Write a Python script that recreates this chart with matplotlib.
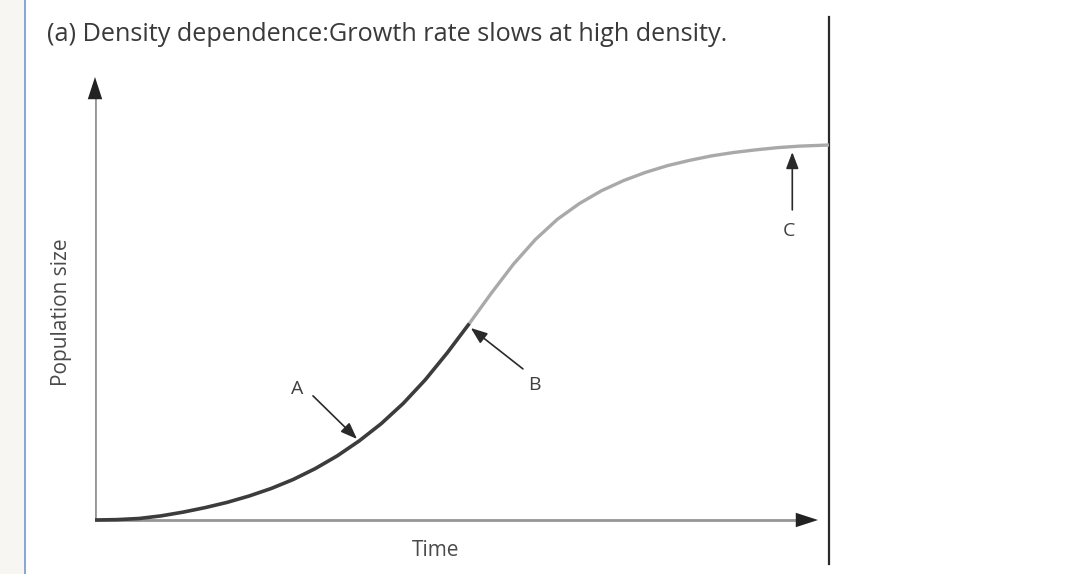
import matplotlib
matplotlib.use("Agg")
import matplotlib.pyplot as plt
from matplotlib.patches import Rectangle

# curve (time, population size), arbitrary units
# dark part: from the origin up to point B
time_dark = [0.0, 0.3, 0.6, 0.9, 1.2, 1.5, 1.8, 2.1, 2.4, 2.7, 3.0, 3.3,
             3.6, 3.9, 4.2, 4.5, 4.8, 5.1]
pop_dark = [0.0, 0.01, 0.04, 0.11, 0.21, 0.33, 0.47, 0.64, 0.84, 1.08, 1.37, 1.71,
            2.11, 2.57, 3.11, 3.74, 4.46, 5.24]
# light part: from point B to the plateau
time_light = [5.1, 5.4, 5.7, 6.0, 6.3, 6.6, 6.9, 7.2, 7.5, 7.8, 8.1, 8.4,
              8.7, 9.0, 9.3, 9.6, 10.0]
pop_light = [5.24, 6.05, 6.82, 7.48, 8.02, 8.44, 8.78, 9.05, 9.27, 9.45, 9.59, 9.71,
             9.80, 9.87, 9.93, 9.97, 10.0]

labels = ["A", "B", "C"]
label_pos = [(2.75, 3.5), (5.98, 3.6), (9.46, 7.7)]
arrow_tail = [(2.97, 3.31), (5.83, 4.03), (9.50, 8.27)]
arrow_tip = [(3.57, 2.16), (5.12, 5.12), (9.50, 9.81)]

title = "(a) Density dependence:Growth rate slows at high density."
xlabel = "Time"
ylabel = "Population size"

W, H = 1068, 574
fig = plt.figure(figsize=(W / 100, H / 100), dpi=100)
plt.rcParams['font.family'] = ['Open Sans', 'DejaVu Sans']

# left strip of the page
fig.patches.append(Rectangle((0, 0), 25 / W, 1, transform=fig.transFigure,
                             color='#f7f6f2', zorder=0))
fig.add_artist(plt.Line2D([25 / W, 25 / W], [0, 1], color='#7f9fd4', lw=1.3))

# axes frame in pixels: x 95..829, y 17..564 ; data 0 at y=520, 10 at y=145
px_x = 73.4
px_y = 37.5
left, right, top, bottom = 95, 829, 17, 564
ax = fig.add_axes([left / W, 1 - bottom / H, (right - left) / W, (bottom - top) / H])
ax.set_xlim(0, (right - left) / px_x)
ax.set_ylim((520 - bottom) / px_y, (520 - top) / px_y)
for s in ['left', 'top', 'bottom']:
    ax.spines[s].set_visible(False)
ax.spines['right'].set_color('#2a2a2a')
ax.spines['right'].set_linewidth(1.6)
ax.set_xticks([])
ax.set_yticks([])
ax.patch.set_alpha(0)

# axis lines with arrows
x_end = (818 - 95) / px_x
y_end = (520 - 77) / px_y
ax.plot([0, x_end - 0.2], [0, 0], color='#969696', lw=2, solid_capstyle='butt', zorder=2)
ax.plot([0, 0], [0, y_end - 0.4], color='#969696', lw=2, solid_capstyle='butt', zorder=2)
head = dict(arrowstyle='-|>,head_length=1.6,head_width=0.52', color='#222222',
            lw=0, shrinkA=0, shrinkB=0, mutation_scale=10)
ax.annotate('', xy=(x_end, 0), xytext=(x_end - 0.3, 0), arrowprops=head)
ax.annotate('', xy=(0, y_end), xytext=(0, y_end - 0.6), arrowprops=head)

# curve
ax.plot(time_light, pop_light, color='#a9a9a9', lw=2.4, solid_capstyle='butt',
        solid_joinstyle='round', zorder=3)
ax.plot(time_dark, pop_dark, color='#3c3c3c', lw=2.6, solid_capstyle='butt',
        solid_joinstyle='round', zorder=4)

# labelled arrows
for lab, lp, tail, tip in zip(labels, label_pos, arrow_tail, arrow_tip):
    ax.text(lp[0], lp[1], lab, ha='center', va='center', fontsize=14, color='#404040')
    ax.annotate('', xy=tip, xytext=tail,
                arrowprops=dict(arrowstyle='-|>,head_length=1.0,head_width=0.38',
                                color='#2a2a2a', lw=1.2, shrinkA=0, shrinkB=0,
                                mutation_scale=10))

fig.text(47 / W, 1 - 41 / H, title, ha='left', va='baseline', fontsize=18.2, color='#3a3a3a')
fig.text(436 / W, 1 - 551 / H, xlabel, ha='center', va='center', fontsize=15, color='#4a4a4a')
fig.text(61 / W, 1 - 312 / H, ylabel, ha='center', va='center', rotation=90,
         fontsize=15, color='#4a4a4a')

fig.savefig('out.png', dpi=100)
